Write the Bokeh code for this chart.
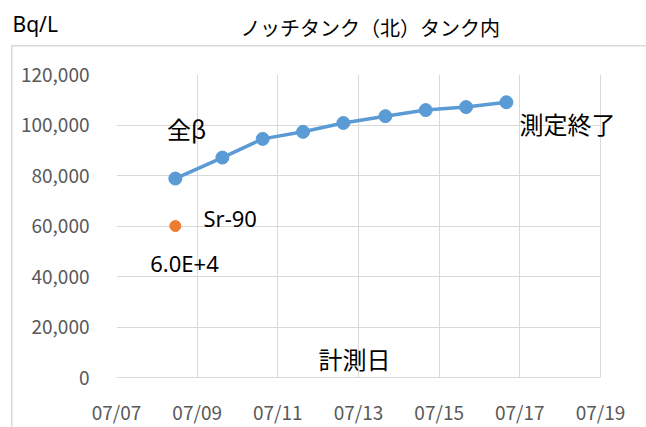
import pandas as pd
from bokeh.plotting import figure
from bokeh.models import (Range1d, FixedTicker, DatetimeTickFormatter, NumeralTickFormatter,
                          Label, ColumnDataSource)
from bokeh.embed import file_html
from bokeh.resources import INLINE

# ---- data ----
beta_dates = ["2013-07-08 11:00", "2013-07-09 15:00", "2013-07-10 15:00", "2013-07-11 15:00",
              "2013-07-12 15:00", "2013-07-13 16:00", "2013-07-14 16:00", "2013-07-15 16:00",
              "2013-07-16 16:00"]
beta_values = [78800, 87100, 94500, 97300, 100800, 103500, 105900, 107100, 109000]
sr_dates = ["2013-07-08 11:00"]
sr_values = [60000]
x_tick_dates = ["2013-07-07", "2013-07-09", "2013-07-11", "2013-07-13", "2013-07-15",
                "2013-07-17", "2013-07-19"]
y_ticks = [0, 20000, 40000, 60000, 80000, 100000, 120000]

W, H = 646, 427
GRID = "#d9d9d9"
TICK_COLOR = "#595959"
JP = "Noto Sans CJK JP"

bx = pd.to_datetime(beta_dates)
sx = pd.to_datetime(sr_dates)
tx = pd.to_datetime(x_tick_dates)
tick_ms = [t.value / 1e6 for t in tx]

# frame: left 116, right 622 (extra room right of the last gridline for the note text)
FRAME_L, FRAME_R, FRAME_T, FRAME_B = 116, 622, 74, 380
LAST_GRID_X = 600
px_per_day = (LAST_GRID_X - FRAME_L) / ((tx[-1] - tx[0]) / pd.Timedelta(days=1))
x_end = tx[-1] + pd.Timedelta(days=(FRAME_R - LAST_GRID_X) / px_per_day)

border_css = {
    "background-image": "linear-gradient(#d9d9d9,#d9d9d9), linear-gradient(#d9d9d9,#d9d9d9)",
    "background-size": "1.5px 100%, 100% 1.5px",
    "background-position": "11px 45px, 11px 45px",
    "background-repeat": "no-repeat",
}

p = figure(width=W, height=H, output_backend="svg", toolbar_location=None,
           x_axis_type="datetime",
           x_range=Range1d(tx[0], x_end), y_range=Range1d(y_ticks[0], y_ticks[-1]),
           min_border_left=FRAME_L, min_border_right=W - FRAME_R,
           min_border_top=FRAME_T, min_border_bottom=H - FRAME_B,
           styles=border_css)

p.background_fill_color = "white"
p.border_fill_color = None
p.outline_line_color = None

# axes
p.xaxis.ticker = FixedTicker(ticks=tick_ms)
p.xaxis.formatter = DatetimeTickFormatter(days="%m/%d", months="%m/%d", hours="%m/%d",
                                          years="%m/%d")
p.xaxis.bounds = (tick_ms[0], tick_ms[-1])
p.yaxis.ticker = FixedTicker(ticks=y_ticks)
p.yaxis.formatter = NumeralTickFormatter(format="0,0")
for ax in (p.xaxis[0], p.yaxis[0]):
    ax.major_tick_line_color = None
    ax.minor_tick_line_color = None
    ax.major_label_text_color = TICK_COLOR
    ax.major_label_text_font = JP
    ax.major_label_text_font_size = "19px"
p.xaxis.axis_line_color = GRID
p.yaxis.axis_line_color = None
p.xaxis.major_label_standoff = 14
p.yaxis.major_label_standoff = 21

p.xgrid.ticker = FixedTicker(ticks=tick_ms)
p.ygrid.ticker = FixedTicker(ticks=y_ticks)
p.ygrid.cross_bounds = (tick_ms[0], tick_ms[-1])
p.xgrid.grid_line_color = GRID
p.ygrid.grid_line_color = GRID

# data
src = ColumnDataSource(dict(x=bx, y=beta_values))
p.line("x", "y", source=src, line_color="#5B9BD5", line_width=3.5)
p.scatter("x", "y", source=src, size=13, fill_color="#5B9BD5", line_color="#5B9BD5")
p.scatter(sx, sr_values, size=11, fill_color="#ED7D31", line_color="#ED7D31")


def lab(x, y, t, size, font=JP, align="center", place=None):
    lb = Label(x=x, y=y, text=t, x_units="canvas", y_units="canvas",
               text_font=font, text_font_size=size, text_color="black",
               text_align=align, text_baseline="middle")
    if place:
        p.add_layout(lb, place)
    else:
        p.add_layout(lb)


lab(12, 23, "Bq/L", "21px", font="Noto Sans", align="left", place="above")
lab(370, 27, "ノッチタンク（北）タンク内", "20px", place="above")
lab(567, 123, "測定終了", "24px")
lab(186, 128, "全β", "24px")
lab(354, 358, "計測日", "24px")
lab(203, 217, "Sr-90", "22px", font="Noto Sans", align="left")
lab(184, 262, "6.0E+4", "22px", font="Noto Sans")

open("out.html", "w").write(file_html(p, INLINE))
